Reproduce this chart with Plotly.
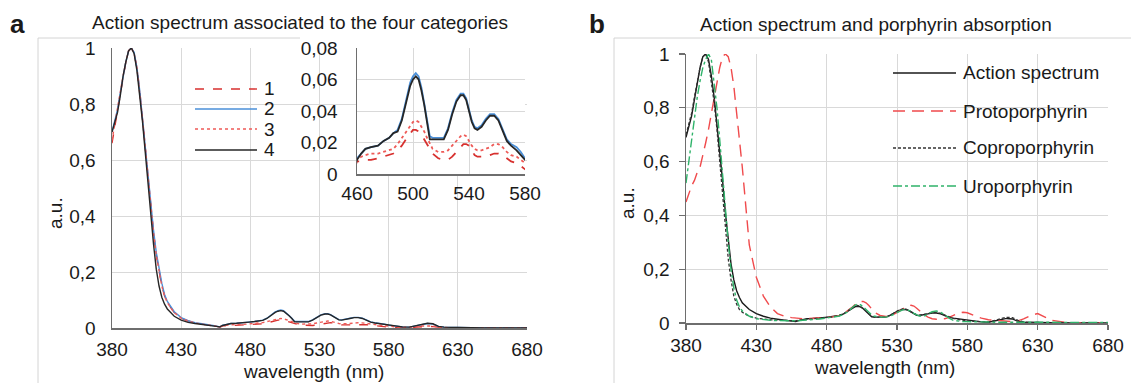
import plotly.graph_objects as go

W, H = 1131, 383

# ---------------- data ----------------
WAVELENGTH = [380, 382, 384, 386, 388, 390, 392, 394, 396, 398, 400, 402, 404, 406, 408, 410,
              412, 414, 416, 418, 420, 425, 430, 435, 440, 445, 450, 455, 458, 460, 463, 466,
              470, 475, 479, 483, 486, 489, 492, 495, 498, 500, 502, 504, 506, 508, 510, 512,
              514, 518, 522, 525, 528, 531, 534, 536, 538, 540, 542, 544, 546, 549, 552, 555,
              558, 561, 564, 567, 570, 574, 577, 580, 585, 590, 595, 600, 604, 608, 612, 616,
              620, 625, 630, 640, 650, 660, 670, 680]

CAT1 = [0.66, 0.72, 0.77, 0.83, 0.90, 0.95, 0.99, 1.00, 0.98, 0.93, 0.85, 0.75, 0.65, 0.54, 0.43, 0.34,
        0.26, 0.20, 0.15, 0.115, 0.09, 0.055, 0.035, 0.025, 0.018, 0.014, 0.011, 0.006, 0.003, 0.008, 0.008, 0.009,
        0.009, 0.010, 0.011, 0.012, 0.013, 0.015, 0.018, 0.022, 0.026, 0.028, 0.028, 0.027, 0.025, 0.022, 0.019, 0.016,
        0.013, 0.010, 0.009, 0.009, 0.011, 0.014, 0.017, 0.019, 0.019, 0.018, 0.015, 0.012, 0.011, 0.011, 0.011, 0.012,
        0.013, 0.013, 0.012, 0.010, 0.008, 0.007, 0.005, 0.003, 0.002, 0.001, 0.001, 0.003, 0.005, 0.006, 0.005, 0.002,
        0.001, 0.001, 0.001, 0.0, 0.0, 0.0, 0.0, 0.0]

CAT2 = [0.70, 0.74, 0.78, 0.84, 0.90, 0.95, 0.99, 1.00, 0.985, 0.93, 0.85, 0.75, 0.65, 0.54, 0.44, 0.35,
        0.27, 0.21, 0.16, 0.12, 0.095, 0.058, 0.037, 0.026, 0.019, 0.015, 0.012, 0.007, 0.004, 0.010, 0.013, 0.016,
        0.017, 0.018, 0.021, 0.023, 0.026, 0.028, 0.035, 0.046, 0.058, 0.062, 0.064, 0.062, 0.055, 0.045, 0.035, 0.024,
        0.023, 0.023, 0.023, 0.029, 0.039, 0.047, 0.051, 0.051, 0.048, 0.041, 0.034, 0.030, 0.029, 0.031, 0.035, 0.038,
        0.038, 0.035, 0.029, 0.022, 0.019, 0.017, 0.014, 0.010, 0.006, 0.004, 0.003, 0.008, 0.013, 0.016, 0.014, 0.006,
        0.003, 0.002, 0.002, 0.001, 0.0, 0.0, 0.0, 0.0]

CAT3 = [0.67, 0.73, 0.78, 0.84, 0.90, 0.95, 0.99, 1.00, 0.98, 0.93, 0.85, 0.75, 0.65, 0.54, 0.43, 0.34,
        0.26, 0.20, 0.15, 0.115, 0.09, 0.055, 0.035, 0.025, 0.018, 0.014, 0.011, 0.006, 0.004, 0.009, 0.011, 0.012,
        0.013, 0.013, 0.014, 0.015, 0.016, 0.019, 0.023, 0.027, 0.031, 0.033, 0.034, 0.033, 0.030, 0.027, 0.023, 0.019,
        0.016, 0.014, 0.014, 0.015, 0.018, 0.021, 0.024, 0.025, 0.024, 0.021, 0.018, 0.016, 0.015, 0.015, 0.016, 0.017,
        0.019, 0.019, 0.017, 0.014, 0.012, 0.011, 0.009, 0.007, 0.004, 0.002, 0.002, 0.004, 0.007, 0.008, 0.007, 0.003,
        0.001, 0.001, 0.001, 0.0, 0.0, 0.0, 0.0, 0.0]

CAT4 = [0.70, 0.74, 0.77, 0.83, 0.90, 0.95, 0.99, 1.00, 0.98, 0.92, 0.84, 0.74, 0.63, 0.51, 0.40, 0.30,
        0.21, 0.15, 0.11, 0.085, 0.068, 0.042, 0.028, 0.020, 0.016, 0.013, 0.011, 0.006, 0.004, 0.009, 0.013, 0.016,
        0.017, 0.018, 0.021, 0.023, 0.026, 0.027, 0.034, 0.045, 0.056, 0.060, 0.062, 0.060, 0.053, 0.044, 0.034, 0.022,
        0.022, 0.022, 0.022, 0.028, 0.038, 0.046, 0.050, 0.050, 0.047, 0.040, 0.033, 0.029, 0.028, 0.030, 0.034, 0.037,
        0.037, 0.034, 0.028, 0.021, 0.018, 0.015, 0.012, 0.009, 0.006, 0.004, 0.003, 0.008, 0.014, 0.017, 0.015, 0.006,
        0.003, 0.002, 0.002, 0.001, 0.0, 0.0, 0.0, 0.0]

ACTION = [0.69, 0.73, 0.77, 0.83, 0.89, 0.95, 0.99, 1.00, 0.98, 0.92, 0.84, 0.74, 0.64, 0.53, 0.41, 0.31,
          0.22, 0.16, 0.12, 0.095, 0.075, 0.050, 0.035, 0.025, 0.018, 0.014, 0.011, 0.007, 0.005, 0.009, 0.013, 0.016,
          0.017, 0.018, 0.021, 0.023, 0.026, 0.028, 0.034, 0.045, 0.056, 0.060, 0.062, 0.060, 0.053, 0.044, 0.034, 0.023,
          0.022, 0.022, 0.022, 0.028, 0.038, 0.046, 0.050, 0.050, 0.047, 0.040, 0.033, 0.029, 0.028, 0.030, 0.034, 0.037,
          0.037, 0.034, 0.028, 0.021, 0.018, 0.015, 0.012, 0.009, 0.006, 0.004, 0.003, 0.008, 0.014, 0.017, 0.015, 0.006,
          0.003, 0.002, 0.002, 0.001, 0.0, 0.0, 0.0, 0.0]

PROTO = [0.45, 0.48, 0.51, 0.53, 0.56, 0.58, 0.62, 0.67, 0.72, 0.78, 0.84, 0.90, 0.95, 0.99, 1.00, 0.99,
         0.95, 0.88, 0.78, 0.68, 0.58, 0.29, 0.17, 0.10, 0.06, 0.035, 0.025, 0.020, 0.018, 0.017, 0.016, 0.016,
         0.017, 0.018, 0.020, 0.022, 0.025, 0.028, 0.034, 0.045, 0.058, 0.068, 0.075, 0.080, 0.080, 0.075, 0.065, 0.052,
         0.040, 0.028, 0.024, 0.025, 0.032, 0.042, 0.052, 0.060, 0.065, 0.066, 0.063, 0.055, 0.045, 0.032, 0.022, 0.016,
         0.014, 0.014, 0.016, 0.021, 0.028, 0.037, 0.040, 0.038, 0.028, 0.018, 0.012, 0.010, 0.008, 0.006, 0.005, 0.008,
         0.015, 0.028, 0.035, 0.010, 0.002, 0.0, 0.0, 0.0]

COPRO = [0.70, 0.74, 0.78, 0.84, 0.90, 0.95, 0.99, 1.00, 0.97, 0.90, 0.82, 0.72, 0.60, 0.47, 0.35, 0.24,
         0.16, 0.10, 0.07, 0.05, 0.04, 0.025, 0.018, 0.014, 0.012, 0.011, 0.010, 0.008, 0.008, 0.010, 0.012, 0.014,
         0.016, 0.018, 0.020, 0.022, 0.025, 0.028, 0.034, 0.045, 0.057, 0.063, 0.065, 0.062, 0.054, 0.044, 0.034, 0.025,
         0.022, 0.021, 0.022, 0.028, 0.038, 0.047, 0.052, 0.052, 0.048, 0.041, 0.034, 0.030, 0.029, 0.031, 0.035, 0.039,
         0.040, 0.036, 0.029, 0.022, 0.017, 0.013, 0.010, 0.008, 0.006, 0.004, 0.004, 0.010, 0.017, 0.021, 0.020, 0.010,
         0.004, 0.002, 0.002, 0.001, 0.0, 0.0, 0.0, 0.0]

URO = [0.52, 0.60, 0.68, 0.77, 0.84, 0.90, 0.95, 0.98, 1.00, 0.98, 0.90, 0.80, 0.68, 0.55, 0.42, 0.30,
       0.20, 0.13, 0.085, 0.06, 0.045, 0.025, 0.016, 0.012, 0.010, 0.009, 0.008, 0.008, 0.008, 0.008, 0.010, 0.011,
       0.012, 0.015, 0.018, 0.020, 0.023, 0.026, 0.032, 0.042, 0.058, 0.066, 0.070, 0.068, 0.060, 0.050, 0.040, 0.030,
       0.025, 0.022, 0.022, 0.025, 0.033, 0.042, 0.049, 0.050, 0.047, 0.044, 0.036, 0.030, 0.026, 0.025, 0.032, 0.042,
       0.045, 0.040, 0.030, 0.018, 0.010, 0.006, 0.005, 0.005, 0.004, 0.003, 0.003, 0.003, 0.003, 0.003, 0.002, 0.002,
       0.002, 0.002, 0.002, 0.002, 0.002, 0.002, 0.002, 0.002]

X_TICKS = [380, 430, 480, 530, 580, 630, 680]
INSET_X_TICKS = [460, 500, 540, 580]
LEGEND_A = ["1", "2", "3", "4"]
LEGEND_B = ["Action spectrum", "Protoporphyrin", "Coproporphyrin", "Uroporphyrin"]

# ---------------- styling helpers ----------------
FONT = "Liberation Sans, Arial, sans-serif"
TXT = "#1a1a1a"
GRID = "#d9d9d9"
AXL = "#6e6e6e"
BOXL = "#d4d4d4"


def px(x):
    return x / W


def py(y):
    return 1 - y / H


fig = go.Figure()

styles_a = [
    dict(color="#d7312f", width=1.4, dash="dash"),
    dict(color="#4a8fd8", width=1.4, dash="solid"),
    dict(color="#ee5a57", width=1.4, dash="dot"),
    dict(color="#262626", width=1.4, dash="solid"),
]
series_a = [CAT1, CAT2, CAT3, CAT4]
for name, ys, st in zip(LEGEND_A, series_a, styles_a):
    fig.add_trace(go.Scatter(x=WAVELENGTH, y=ys, mode="lines", line=st, name=name,
                             xaxis="x", yaxis="y", showlegend=False))
for name, ys, st in zip(LEGEND_A, series_a, styles_a):
    st2 = dict(st)
    st2["width"] = 1.8
    fig.add_trace(go.Scatter(x=WAVELENGTH, y=ys, mode="lines", line=st2, name=name,
                             xaxis="x4", yaxis="y4", showlegend=False))

styles_b = [
    dict(color="#1a1a1a", width=1.4, dash="solid"),
    dict(color="#f04a4c", width=1.4, dash="12px,7px"),
    dict(color="#333333", width=1.3, dash="3px,2px"),
    dict(color="#2fb36a", width=1.4, dash="dashdot"),
]
series_b = [ACTION, PROTO, COPRO, URO]
for name, ys, st in zip(LEGEND_B, series_b, styles_b):
    fig.add_trace(go.Scatter(x=WAVELENGTH, y=ys, mode="lines", line=st, name=name,
                             xaxis="x2", yaxis="y2", showlegend=False))

tickfont = dict(family=FONT, size=19, color=TXT)

layout = dict(
    template="none",
    width=W, height=H, margin=dict(l=0, r=0, t=0, b=0, pad=0, autoexpand=False),
    paper_bgcolor="white", plot_bgcolor="white",
    separators=",.", showlegend=False, hovermode=False,
    font=dict(family=FONT, size=19, color=TXT),
)

common = dict(automargin=False, zeroline=False)

# panel a main
layout["xaxis"] = dict(domain=[px(112), px(527)], range=[380, 680], tickvals=X_TICKS,
                       showgrid=True, gridcolor=GRID, gridwidth=1,
                       showline=True, linecolor=AXL, linewidth=1.5, ticks="",
                       tickfont=tickfont, ticklabelstandoff=4, anchor="y", **common)
layout["yaxis"] = dict(domain=[py(328), py(48)], range=[0, 1], dtick=0.2,
                       showgrid=True, gridcolor=GRID,
                       showline=True, linecolor=AXL, linewidth=1.5, ticks="",
                       tickfont=tickfont, ticklabelstandoff=11, anchor="x", **common)
# panel b main
layout["xaxis2"] = dict(domain=[px(686), px(1108)], range=[380, 680], tickvals=X_TICKS,
                        showgrid=True, gridcolor=GRID,
                        showline=True, linecolor=AXL, linewidth=1.5, ticks="outside",
                        ticklen=5, tickcolor=AXL, tickwidth=1.2,
                        tickfont=tickfont, ticklabelstandoff=0, anchor="y2", **common)
layout["yaxis2"] = dict(domain=[py(323), py(54)], range=[0, 1], dtick=0.2,
                        showgrid=True, gridcolor=GRID,
                        showline=True, linecolor=AXL, linewidth=1.5, ticks="outside",
                        ticklen=6, tickcolor=AXL, tickwidth=1.2,
                        tickfont=tickfont, ticklabelstandoff=5, anchor="x2", **common)
# inset frame (white box with light border)
layout["xaxis3"] = dict(domain=[px(300), px(557)], range=[0, 1], showgrid=False,
                        showticklabels=False, showline=True, mirror=True, linecolor=BOXL,
                        linewidth=1, ticks="", anchor="y3", fixedrange=True, **common)
layout["yaxis3"] = dict(domain=[py(212), py(38)], range=[0, 1], showgrid=False,
                        showticklabels=False, showline=True, mirror=True, linecolor=BOXL,
                        linewidth=1, ticks="", anchor="x3", fixedrange=True, **common)
# inset axes
layout["xaxis4"] = dict(domain=[px(357), px(525)], range=[460, 580], tickvals=INSET_X_TICKS,
                        showgrid=True, gridcolor=GRID,
                        showline=True, linecolor=AXL, linewidth=1.5, ticks="",
                        tickfont=tickfont, ticklabelstandoff=2, anchor="y4", **common)
layout["yaxis4"] = dict(domain=[py(174), py(48)], range=[0, 0.08], dtick=0.02,
                        showgrid=True, gridcolor=GRID,
                        showline=True, linecolor=AXL, linewidth=1.5, ticks="",
                        tickfont=tickfont, ticklabelstandoff=14, anchor="x4", **common)
# legend backgrounds
layout["xaxis5"] = dict(domain=[px(190), px(283)], range=[0, 1], visible=False, anchor="y5", **common)
layout["yaxis5"] = dict(domain=[py(158), py(78)], range=[0, 1], visible=False, anchor="x5", **common)
layout["xaxis6"] = dict(domain=[px(877), px(1106)], range=[0, 1], visible=False, anchor="y6", **common)
layout["yaxis6"] = dict(domain=[py(202), py(57)], range=[0, 1], visible=False, anchor="x6", **common)

fig.update_layout(**layout)

shapes = []
# outer panel frames
shapes.append(dict(type="line", xref="paper", yref="paper", x0=px(38), x1=px(38), y0=py(38), y1=0,
                   line=dict(color=BOXL, width=1), layer="below"))
shapes.append(dict(type="line", xref="paper", yref="paper", x0=px(38), x1=px(300), y0=py(38), y1=py(38),
                   line=dict(color=BOXL, width=1), layer="below"))
shapes.append(dict(type="line", xref="paper", yref="paper", x0=px(614), x1=px(614), y0=py(38), y1=0,
                   line=dict(color=BOXL, width=1), layer="below"))
shapes.append(dict(type="line", xref="paper", yref="paper", x0=px(614), x1=1, y0=py(38), y1=py(38),
                   line=dict(color=BOXL, width=1), layer="below"))

annotations = []
# legend a
leg_a_y = [89, 109, 129, 150]
for lbl, st, yy in zip(LEGEND_A, styles_a, leg_a_y):
    shapes.append(dict(type="line", xref="paper", yref="paper", x0=px(195), x1=px(257),
                       y0=py(yy), y1=py(yy), line=dict(color=st["color"], width=1.4, dash=st["dash"]),
                       layer="above"))
    annotations.append(dict(text=lbl, x=px(262), y=py(yy), xref="paper", yref="paper",
                            xanchor="left", yanchor="middle", showarrow=False,
                            font=dict(family=FONT, size=19, color=TXT)))
# legend b
leg_b_y = [73, 111, 148, 186]
for lbl, st, yy in zip(LEGEND_B, styles_b, leg_b_y):
    shapes.append(dict(type="line", xref="paper", yref="paper", x0=px(893), x1=px(956),
                       y0=py(yy), y1=py(yy), line=dict(color=st["color"], width=1.3, dash=st["dash"]),
                       layer="above"))
    annotations.append(dict(text=lbl, x=px(961), y=py(yy), xref="paper", yref="paper",
                            xanchor="left", yanchor="middle", showarrow=False,
                            font=dict(family=FONT, size=19, color=TXT)))


# titles & labels
def ann(text, x, y, size=19, bold=False, angle=0, xanchor="center"):
    annotations.append(dict(text=("<b>%s</b>" % text) if bold else text, x=px(x), y=py(y),
                            xref="paper", yref="paper", xanchor=xanchor, yanchor="middle",
                            showarrow=False, textangle=angle,
                            font=dict(family=FONT, size=size, color=TXT)))


ann("a", 17.5, 24, size=26, bold=True)
ann("b", 596.5, 24, size=26, bold=True)
ann("Action spectrum associated to the four categories", 300, 23)
ann("Action spectrum and porphyrin absorption", 875.5, 25)
ann("a.u.", 55, 213, angle=-90)
ann("a.u.", 627, 203, angle=-90)
ann("wavelength (nm)", 314, 371)
ann("wavelength (nm)", 885, 367)

fig.update_layout(shapes=shapes, annotations=annotations)
fig.write_html("out.html", config={"displayModeBar": False, "staticPlot": True},
               post_script="document.body.style.margin='0px';document.body.style.overflow='hidden';")
